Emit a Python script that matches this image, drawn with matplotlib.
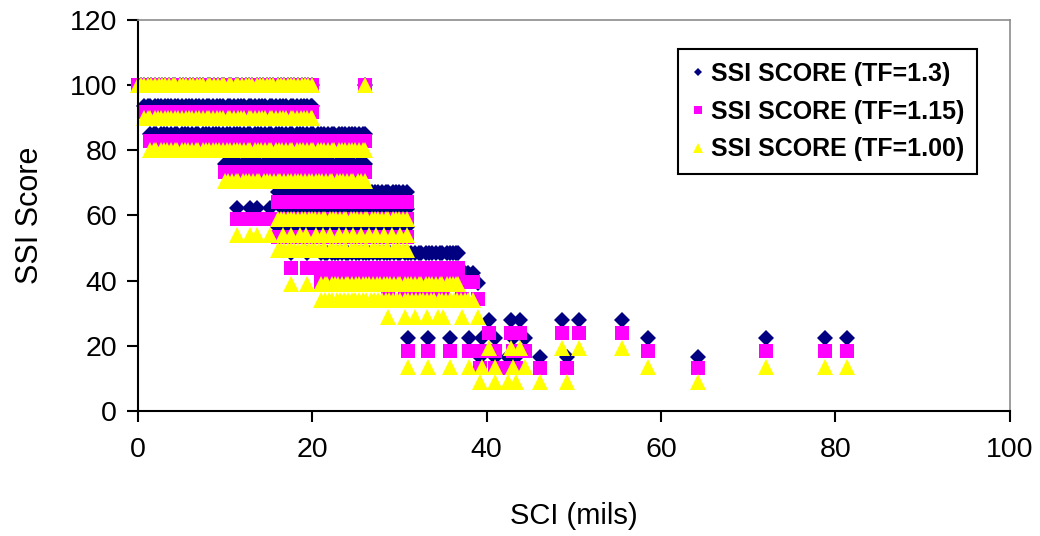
import matplotlib
matplotlib.use('Agg')
import matplotlib.pyplot as plt

plt.rcParams['font.family'] = ['Liberation Sans', 'DejaVu Sans']

# SCI values (mils) for each group of readings
sci_a = [0.0, 0.3, 0.7, 1.2, 1.5, 1.9, 2.4, 2.7, 3.1, 3.6, 4.0, 4.3, 4.8, 5.2, 5.5, 6.0,
         6.3, 6.8, 7.1, 7.5, 8.0, 8.3, 8.7, 9.2, 9.6, 9.9, 10.4, 10.7, 11.2, 11.5, 11.9,
         12.4, 12.7, 13.1, 13.6, 14.0, 14.3, 14.8, 15.1, 15.5, 16.0, 16.4, 16.7, 17.2,
         17.5, 17.9, 18.4, 18.8, 19.1, 19.5, 19.9, 26.0]
sci_b = [0.7, 1.1, 1.4, 1.9, 2.3, 2.6, 3.1, 3.4, 3.8, 4.3, 4.6, 5.0, 5.5, 5.8, 6.2, 6.7,
         7.0, 7.4, 7.9, 8.2, 8.6, 9.1, 9.4, 9.8, 10.3, 10.6, 11.0, 11.5, 11.8, 12.2, 12.7,
         13.0, 13.4, 13.9, 14.2, 14.6, 15.1, 15.4, 15.8, 16.3, 16.6, 17.0, 17.5, 17.8,
         18.2, 18.7, 19.0, 19.4, 19.8, 20.0]
sci_c = [1.4, 1.8, 2.1, 2.6, 3.0, 3.3, 3.8, 4.2, 4.5, 5.0, 5.4, 5.7, 6.2, 6.6, 6.9, 7.4,
         7.8, 8.1, 8.6, 9.0, 9.3, 9.8, 10.2, 10.5, 11.0, 11.4, 11.7, 12.2, 12.6, 12.9,
         13.4, 13.8, 14.1, 14.6, 15.0, 15.3, 15.8, 16.2, 16.5, 17.0, 17.4, 17.7, 18.2,
         18.6, 18.9, 19.4, 19.8, 20.1, 20.6, 21.0, 21.3, 21.8, 22.2, 22.5, 23.0, 23.4,
         23.7, 24.2, 24.6, 24.9, 25.4, 25.8, 26.0]
sci_d = [10.0, 10.3, 10.8, 11.2, 11.5, 12.0, 12.4, 12.7, 13.2, 13.6, 13.9, 14.4, 14.8,
         15.1, 15.6, 16.0, 16.3, 16.8, 17.2, 17.5, 18.0, 18.4, 18.7, 19.2, 19.6, 19.9,
         20.4, 20.8, 21.1, 21.6, 22.0, 22.3, 22.8, 23.2, 23.5, 24.0, 24.4, 24.7, 25.2,
         25.6, 26.0]
sci_e = [16.0, 16.4, 16.7, 17.2, 17.6, 17.9, 18.4, 18.8, 19.1, 19.6, 20.0, 20.3, 20.8,
         21.2, 21.5, 22.0, 22.4, 22.7, 23.2, 23.6, 23.9, 24.4, 24.8, 25.1, 25.6, 26.0,
         26.3, 26.8, 27.2, 27.5, 28.0, 28.4, 28.7, 29.2, 29.6, 29.9, 30.4, 30.8]
sci_f = [11.4, 12.8, 13.6, 15.1]
sci_g = [16.6, 17.5, 18.6, 19.3, 20.4, 21.2, 22.0, 23.1, 23.8, 24.7, 25.6, 26.5, 27.3,
         28.2, 29.1, 30.0, 30.9]
sci_h = [17.5, 19.4, 21.0, 21.4, 21.7, 22.2, 22.6, 22.9, 23.4, 23.8, 24.1, 24.6, 25.0,
         25.3, 25.8, 26.2, 26.5, 27.0, 27.4, 27.7, 28.2, 28.6, 28.9, 29.4, 29.8, 30.1,
         30.6, 31.0, 31.3, 31.8, 32.2, 32.5, 33.0, 33.4, 33.7, 34.2, 34.6, 34.9, 35.4,
         35.8, 36.1, 36.5, 36.7]
sci_i = [21.0, 21.5, 21.9, 22.3, 22.8, 23.2, 23.6, 24.1, 24.5, 24.9, 25.4, 25.8, 26.2,
         26.7, 27.1, 27.5, 28.0, 28.4, 28.8, 29.3, 29.7, 30.1, 30.6, 31.0, 31.4, 31.9,
         32.3, 32.7, 33.2, 33.6, 34.0, 34.5, 34.9, 35.3, 35.8, 36.2, 36.6, 37.1, 37.5,
         37.9, 38.4]
sci_j = [28.7, 30.6, 31.8, 33.1, 34.4, 35.0, 37.2, 39.0]
sci_k = [40.3, 42.8, 43.8, 48.6, 50.6, 55.5]
sci_l = [31.0, 33.3, 35.8, 38.0, 39.4, 41.0, 43.0, 44.4, 58.5, 72.0, 78.8, 81.3]
sci_m = [39.2, 41.0, 42.4, 43.3, 46.1, 49.2, 64.2]

sci_groups = [sci_a, sci_b, sci_c, sci_d, sci_e, sci_e, sci_f, sci_g, sci_h, sci_i,
              sci_j, sci_k, sci_l, sci_m]

# SSI score of each group for the three TF values
ssi_tf130 = [100, 93.5, 85.0, 75.8, 67.3, 56.5, 62.3, 62.0, 48.5, 42.5, 39.3, 27.9, 22.4, 16.6]
ssi_tf115 = [100, 91.8, 82.8, 73.2, 64.0, 53.5, 59.0, 59.0, 44.0, 39.5, 34.5, 24.0, 18.5, 13.3]
ssi_tf100 = [100, 89.8, 80.2, 70.5, 59.0, 49.4, 54.0, 54.0, 39.0, 34.0, 28.8, 19.3, 13.5, 8.9]

series = [
    ('SSI SCORE (TF=1.3)', ssi_tf130, 'D', '#000080', 8.3),
    ('SSI SCORE (TF=1.15)', ssi_tf115, 's', '#FF00FF', 10.2),
    ('SSI SCORE (TF=1.00)', ssi_tf100, '^', '#FFFF00', 12.0),
]

fig = plt.figure(figsize=(10.4, 5.36), dpi=100)
ax = fig.add_axes([0.1327, 0.2332, 0.8383, 0.7295])

for label, scores, marker, color, size in series:
    xs = []
    ys = []
    for group, score in zip(sci_groups, scores):
        xs.extend(group)
        ys.extend([score] * len(group))
    ax.plot(xs, ys, linestyle='none', marker=marker, color=color, markersize=size,
            markeredgewidth=0, label=label, clip_on=False)

ax.set_xlim(0, 100)
ax.set_ylim(0, 120)
ax.set_xticks(range(0, 101, 20))
ax.set_yticks(range(0, 121, 20))
ax.tick_params(direction='out', length=8, width=1.5, labelsize=20.5, pad=7)
ax.tick_params(axis='x', pad=11)

for side in ['left', 'bottom']:
    ax.spines[side].set_color('black')
    ax.spines[side].set_linewidth(1.5)
for side in ['top', 'right']:
    ax.spines[side].set_color('#8c8c8c')
    ax.spines[side].set_linewidth(1.2)

ax.set_xlabel('SCI (mils)', fontsize=21, labelpad=28)
ax.set_ylabel('SSI Score', fontsize=22, labelpad=18)

leg = ax.legend(loc='upper right', bbox_to_anchor=(0.962, 0.925), borderaxespad=0,
                prop={'weight': 'bold', 'size': 18}, markerscale=0.55,
                handlelength=0.55, handletextpad=0.25, labelspacing=0.55,
                borderpad=0.5, fancybox=False, framealpha=1, edgecolor='black')
leg.get_frame().set_linewidth(1.5)

fig.savefig('out.png', dpi=100)
